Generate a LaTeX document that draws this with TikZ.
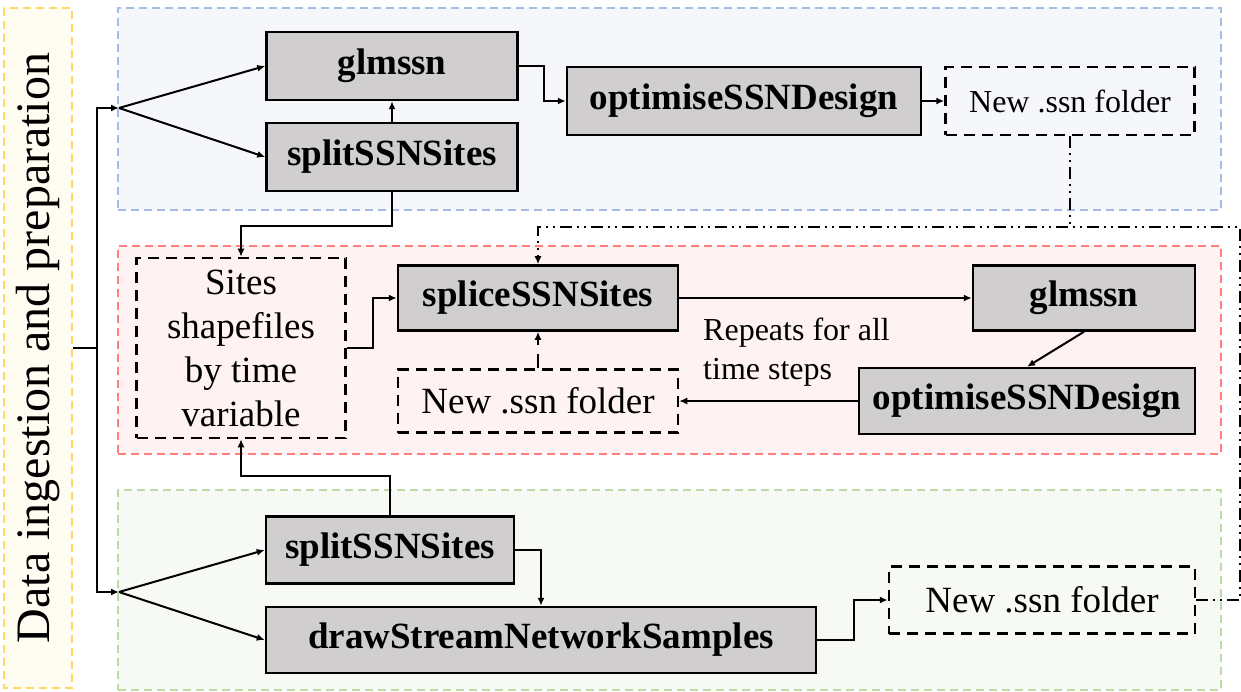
\documentclass[tikz,border=0pt]{standalone}
\usepackage{fontspec}
\setmainfont{Liberation Serif}
\newfontfamily\sidefont{Liberation Serif}
\usetikzlibrary{arrows.meta}
\definecolor{boxgray}{HTML}{D0CECE}
\definecolor{blueline}{HTML}{A4BDE6}
\definecolor{bluefill}{HTML}{F5F7FB}
\definecolor{redline}{HTML}{FF7F7F}
\definecolor{redfill}{HTML}{FFF2F2}
\definecolor{greenline}{HTML}{BDDBA6}
\definecolor{greenfill}{HTML}{F7FAF4}
\definecolor{sideline}{HTML}{FFD966}
\definecolor{sidefill}{HTML}{FFFCF2}

\begin{document}
\begin{tikzpicture}[x=1pt,y=-1pt]
    \tikzset{wh/.style 2 args = {minimum width=#1pt,minimum height=#2pt}}
    \tikzset{proc/.style = {shape=rectangle,draw,line width=2.5pt,fill=boxgray,inner sep=0pt,font=\fontsize{37}{40}\selectfont\bfseries}}
    \tikzset{folder/.style = {shape=rectangle,draw,line width=2.5pt,dash pattern=on 11pt off 7pt,inner sep=0pt,font=\fontsize{37}{40}\selectfont}}
    \tikzset{zone/.style = {shape=rectangle,line width=2pt,dash pattern=on 8pt off 5pt,wh={1103}{#1}}}
    \tikzset{edge/.style = {line width=2pt,-{Latex[length=8pt,width=7pt]}}}
    \tikzset{relay/.style = {edge,dash pattern=on 12pt off 5pt on 2pt off 5pt on 2pt off 5pt}}
    \useasboundingbox (0,0) rectangle (1241,692);
    % zones
    \node[zone=202,draw=blueline,fill=bluefill] (zoneA) at (669.5,109) {};
    \node[zone=208,draw=redline,fill=redfill] (zoneB) at (669.5,350) {};
    \node[zone=200,draw=greenline,fill=greenfill] (zoneC) at (669.5,590) {};
    \node[shape=rectangle,draw=sideline,fill=sidefill,line width=2pt,dash pattern=on 8pt off 5pt,
          wh={680}{68},inner sep=0pt,rotate=90,font=\sidefont\fontsize{48}{52}\selectfont] (side) at (38,348) {Data ingestion and preparation};
    % vertices
    \node[proc,wh={251}{68}] (glmA) at (392,66) {glmssn};
    \node[proc,wh={251}{68}] (splitA) at (392,157) {splitSSNSites};
    \node[proc,wh={354}{68}] (optA) at (744,101) {optimiseSSNDesign};
    \node[folder,wh={249}{68},font=\fontsize{32}{36}\selectfont] (newA) at (1070,101) {New .ssn folder};

    \node[folder,wh={209}{180},align=center,font=\fontsize{37}{44}\selectfont] (sites) at (241,348) {Sites\\shapefiles\\by time\\variable};
    \node[proc,wh={280}{65}] (splice) at (538,298) {spliceSSNSites};
    \node[proc,wh={222}{65}] (glmB) at (1084,298) {glmssn};
    \node[proc,wh={336}{66}] (optB) at (1027,401) {optimiseSSNDesign};
    \node[folder,wh={280}{63}] (newB) at (538,401) {New .ssn folder};
    \node[anchor=north west,inner sep=0pt,align=left,font=\fontsize{32}{39}\selectfont] (repeat) at (703,318) {Repeats for all\\time steps};

    \node[proc,wh={248}{67}] (splitC) at (390,550) {splitSSNSites};
    \node[proc,wh={550}{66}] (drawC) at (541,640) {drawStreamNetworkSamples};
    \node[folder,wh={306}{67}] (newC) at (1042,600) {New .ssn folder};

    \coordinate (fanA) at (119,108);
    \coordinate (fanC) at (119,592);
    \coordinate (jn) at (1070,227);
    %edges
    \draw[edge] (side.south) -- ++(24,0) |- (fanA);
    \draw[edge] (side.south) -- ++(24,0) |- (fanC);
    \draw[edge] (fanA) -- (glmA.west);
    \draw[edge] (fanA) -- (splitA.west);
    \draw[edge] (fanC) -- (splitC.west);
    \draw[edge] (fanC) -- (drawC.west);

    \draw[edge] (splitA) -- (glmA);
    \draw[edge] (glmA.east) -- ++(25,0) |- (optA.west);
    \draw[edge] (optA) -- (newA);
    \draw[edge] (splitA.south) -- ++(0,34) -| (sites.north);

    \draw[edge] (sites.east) -- ++(26,0) |- (splice.west);
    \draw[edge] (splice) -- (glmB);
    \draw[edge] (glmB.south) -- (optB.north);
    \draw[edge] (optB) -- (newB);
    \draw[edge,dash pattern=on 14pt off 9pt] (newB) -- (splice);

    \draw[edge] (splitC.north) -- ++(0,-39) -| (sites.south);
    \draw[edge] (splitC.east) -| (drawC.north);
    \draw[edge] (drawC.east) -- ++(37,0) |- (newC.west);

    \draw[relay] (newA.south) -- (jn) -| (splice.north);
    \draw[relay,-] (newC.east) -- ++(44,0) |- (jn);
\end{tikzpicture}
\end{document}
